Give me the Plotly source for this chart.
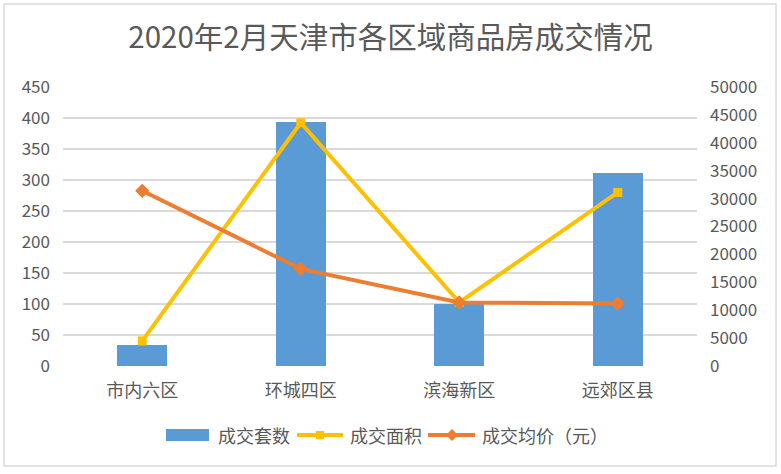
import plotly.graph_objects as go

categories = ["市内六区", "环城四区", "滨海新区", "远郊区县"]
units_sold = [34, 394, 100, 311]            # 成交套数 (left axis)
area_sold = [4500, 43600, 11400, 31100]     # 成交面积 (right axis)
avg_price = [31400, 17400, 11400, 11200]    # 成交均价（元） (right axis)
left_ticks = [0, 50, 100, 150, 200, 250, 300, 350, 400, 450]
right_ticks = [0, 5000, 10000, 15000, 20000, 25000, 30000, 35000, 40000, 45000, 50000]
series_names = ["成交套数", "成交面积", "成交均价（元）"]

FONT = "Noto Sans CJK SC"
TXT = "#595959"
GRID = "#D9D9D9"
C_BAR, C_AREA, C_PRICE = "#5B9BD5", "#FFC000", "#ED7D31"

W, H = 781, 474
pw, ph = 634, 279
l, t = 63, 87

fig = go.Figure()
fig.add_trace(go.Bar(
    x=categories, y=units_sold, name=series_names[0],
    marker=dict(color=C_BAR, line=dict(width=0)),
    width=0.316, yaxis="y",
))
fig.add_trace(go.Scatter(
    x=categories, y=area_sold, name=series_names[1], mode="lines+markers",
    line=dict(color=C_AREA, width=4),
    marker=dict(symbol="square", size=9, color=C_AREA),
    yaxis="y2",
))
fig.add_trace(go.Scatter(
    x=categories, y=avg_price, name=series_names[2], mode="lines+markers",
    line=dict(color=C_PRICE, width=4),
    marker=dict(symbol="diamond", size=11, color=C_PRICE),
    yaxis="y2",
))


# helpers for legend placement in pixel units -> paper coords
def px(x):
    return (x - l) / pw


def py(y):
    return (t + ph - y) / ph


ly = 435
shapes = [
    dict(type="rect", xref="paper", yref="paper",
         x0=px(4), x1=px(776), y0=py(466), y1=py(4),
         line=dict(color=GRID, width=1.5), fillcolor="rgba(0,0,0,0)", layer="below"),
    # legend swatches
    dict(type="rect", xref="paper", yref="paper",
         x0=px(166), x1=px(209), y0=py(ly + 6), y1=py(ly - 6),
         line=dict(width=0), fillcolor=C_BAR),
    dict(type="line", xref="paper", yref="paper",
         x0=px(297), x1=px(343), y0=py(ly), y1=py(ly),
         line=dict(color=C_AREA, width=4)),
    dict(type="rect", xref="paper", yref="paper",
         x0=px(316), x1=px(324), y0=py(ly + 4), y1=py(ly - 4),
         line=dict(width=0), fillcolor=C_AREA),
    dict(type="line", xref="paper", yref="paper",
         x0=px(428), x1=px(475), y0=py(ly), y1=py(ly),
         line=dict(color=C_PRICE, width=4)),
    dict(type="path", xref="paper", yref="paper",
         path=(f"M {px(452)} {py(ly - 6)} L {px(458)} {py(ly)} "
               f"L {px(452)} {py(ly + 6)} L {px(446)} {py(ly)} Z"),
         line=dict(width=0), fillcolor=C_PRICE),
]
legend_x = [216, 348, 480]
annotations = [
    dict(text=name, xref="paper", yref="paper", x=px(x0), y=py(ly),
         xanchor="left", yanchor="middle", showarrow=False,
         font=dict(family=FONT, size=18, color=TXT))
    for name, x0 in zip(series_names, legend_x)
]

fig.update_layout(
    width=W, height=H,
    margin=dict(l=l, r=W - l - pw, t=t, b=H - t - ph, pad=0, autoexpand=False),
    paper_bgcolor="white", plot_bgcolor="white",
    font=dict(family=FONT, color=TXT, size=17),
    title=dict(text="2020年2月天津市各区域商品房成交情况", x=0.5, xanchor="center",
               y=1 - 38 / H, yanchor="middle",
               font=dict(family=FONT, size=29.5, color=TXT)),
    showlegend=False,
    bargap=0,
    xaxis=dict(showgrid=False, showline=False, ticks="", tickfont=dict(size=18, color=TXT),
               ticklabelstandoff=12, fixedrange=True),
    yaxis=dict(range=[0, 450], tickvals=left_ticks, showgrid=True, gridcolor=GRID, gridwidth=1.5,
               zeroline=False, showline=False, ticks="", ticklabelstandoff=12,
               tickfont=dict(size=17, color=TXT)),
    yaxis2=dict(range=[0, 50000], tickvals=right_ticks, ticktext=[str(v) for v in right_ticks],
                overlaying="y", side="right",
                showgrid=False, zeroline=False, showline=False, ticks="", ticklabelstandoff=12,
                tickfont=dict(size=17, color=TXT)),
    shapes=shapes,
    annotations=annotations,
)

fig.write_html("out.html", config={"displayModeBar": False},
               post_script="document.body.style.margin='0';")
